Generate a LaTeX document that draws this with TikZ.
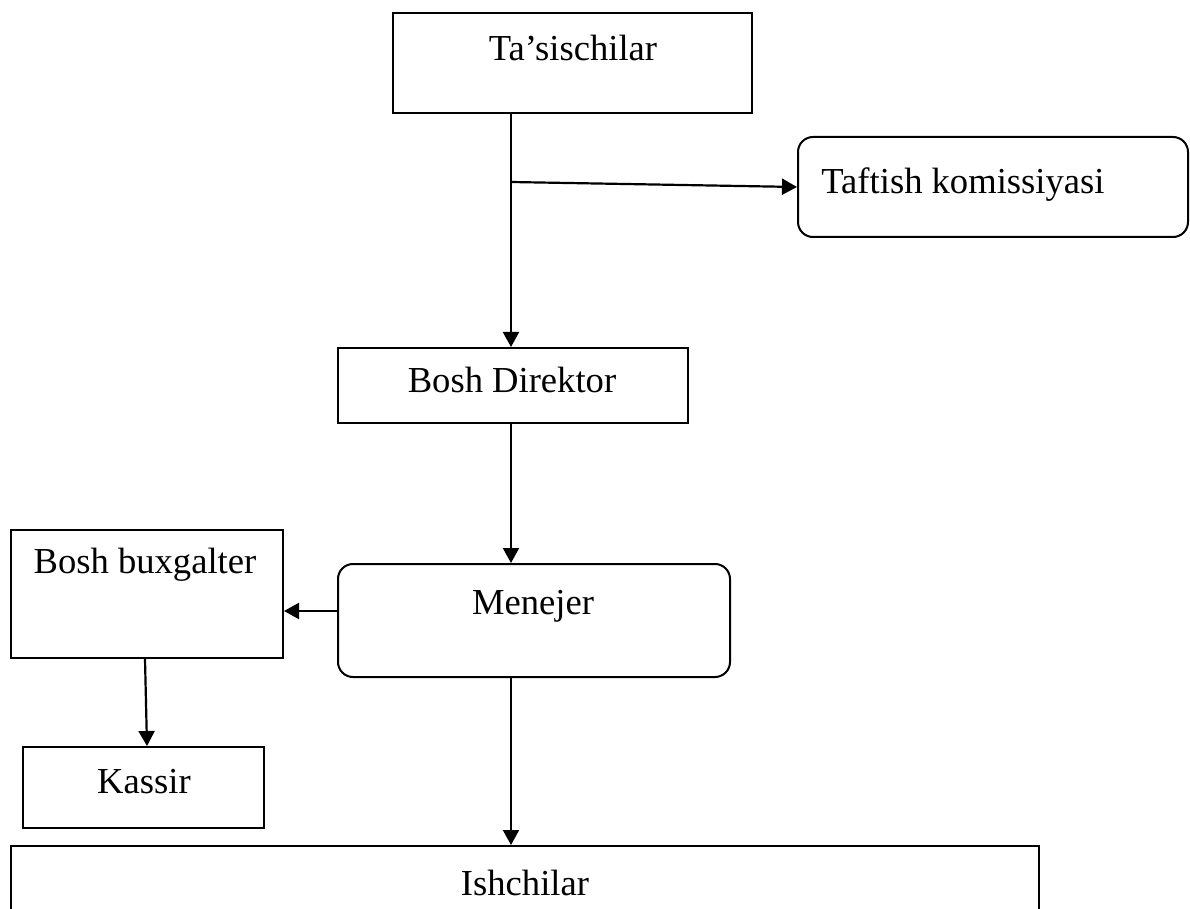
\documentclass[tikz,border=0pt]{standalone}
\usepackage{fontspec}
\setmainfont{Liberation Serif}
\usetikzlibrary{fit,arrows.meta}
\begin{document}
\begin{tikzpicture}[x=0.5pt,y=-0.5pt,
  box/.style={draw,line width=1pt,inner sep=0pt,fill=none},
  rbox/.style={box,rounded corners=7.5pt},
  lbl/.style={inner sep=0pt,anchor=base,font=\fontsize{18.3}{22}\selectfont},
  conn/.style={line width=1.1pt,-{Triangle[length=7.5pt,width=8pt]}}]
  \useasboundingbox (0,0) rectangle (1190,909);
  \clip (0,0) rectangle (1190,909);

  % boxes
  \node[box,fit={(393,13) (752,113)}] (tas) {};
  \node[rbox,fit={(798,137) (1188,237)}] (taf) {};
  \node[box,fit={(338,348) (688,423)}] (dir) {};
  \node[rbox,fit={(338,564) (730,677)}] (men) {};
  \node[box,fit={(11,530) (283,658)}] (bux) {};
  \node[box,fit={(23,747) (264,828)}] (kas) {};
  \node[box,fit={(11,846) (1039,960)}] (ish) {};

  % labels
  \node[lbl] (tasT) at (573,61) {Ta’sischilar};
  \node[lbl,anchor=base west] (tafT) at (821,194) {Taftish komissiyasi};
  \node[lbl] (dirT) at (512,393) {Bosh Direktor};
  \node[lbl] (menT) at (533,614) {Menejer};
  \node[lbl] (buxT) at (145,574) {Bosh buxgalter};
  \node[lbl] (kasT) at (144,793) {Kassir};
  \node[lbl] (ishT) at (525,895) {Ishchilar};

  % connectors
  \coordinate (spine) at (511,0);
  \coordinate (branch) at (511,182);
  \coordinate (bxfoot) at (145,0);
  \coordinate (ksfoot) at (147,0);
  \draw[conn] (tas.south -| spine) -- (dir.north -| spine);
  \draw[conn] (branch) -- (taf.west);
  \draw[conn] (dir.south -| spine) -- (men.north -| spine);
  \draw[conn] (men.west |- 0,611) -- (bux.east |- 0,611);
  \draw[conn] (bux.south -| bxfoot) -- (kas.north -| ksfoot);
  \draw[conn] (men.south -| spine) -- (ish.north -| spine);
\end{tikzpicture}
\end{document}
